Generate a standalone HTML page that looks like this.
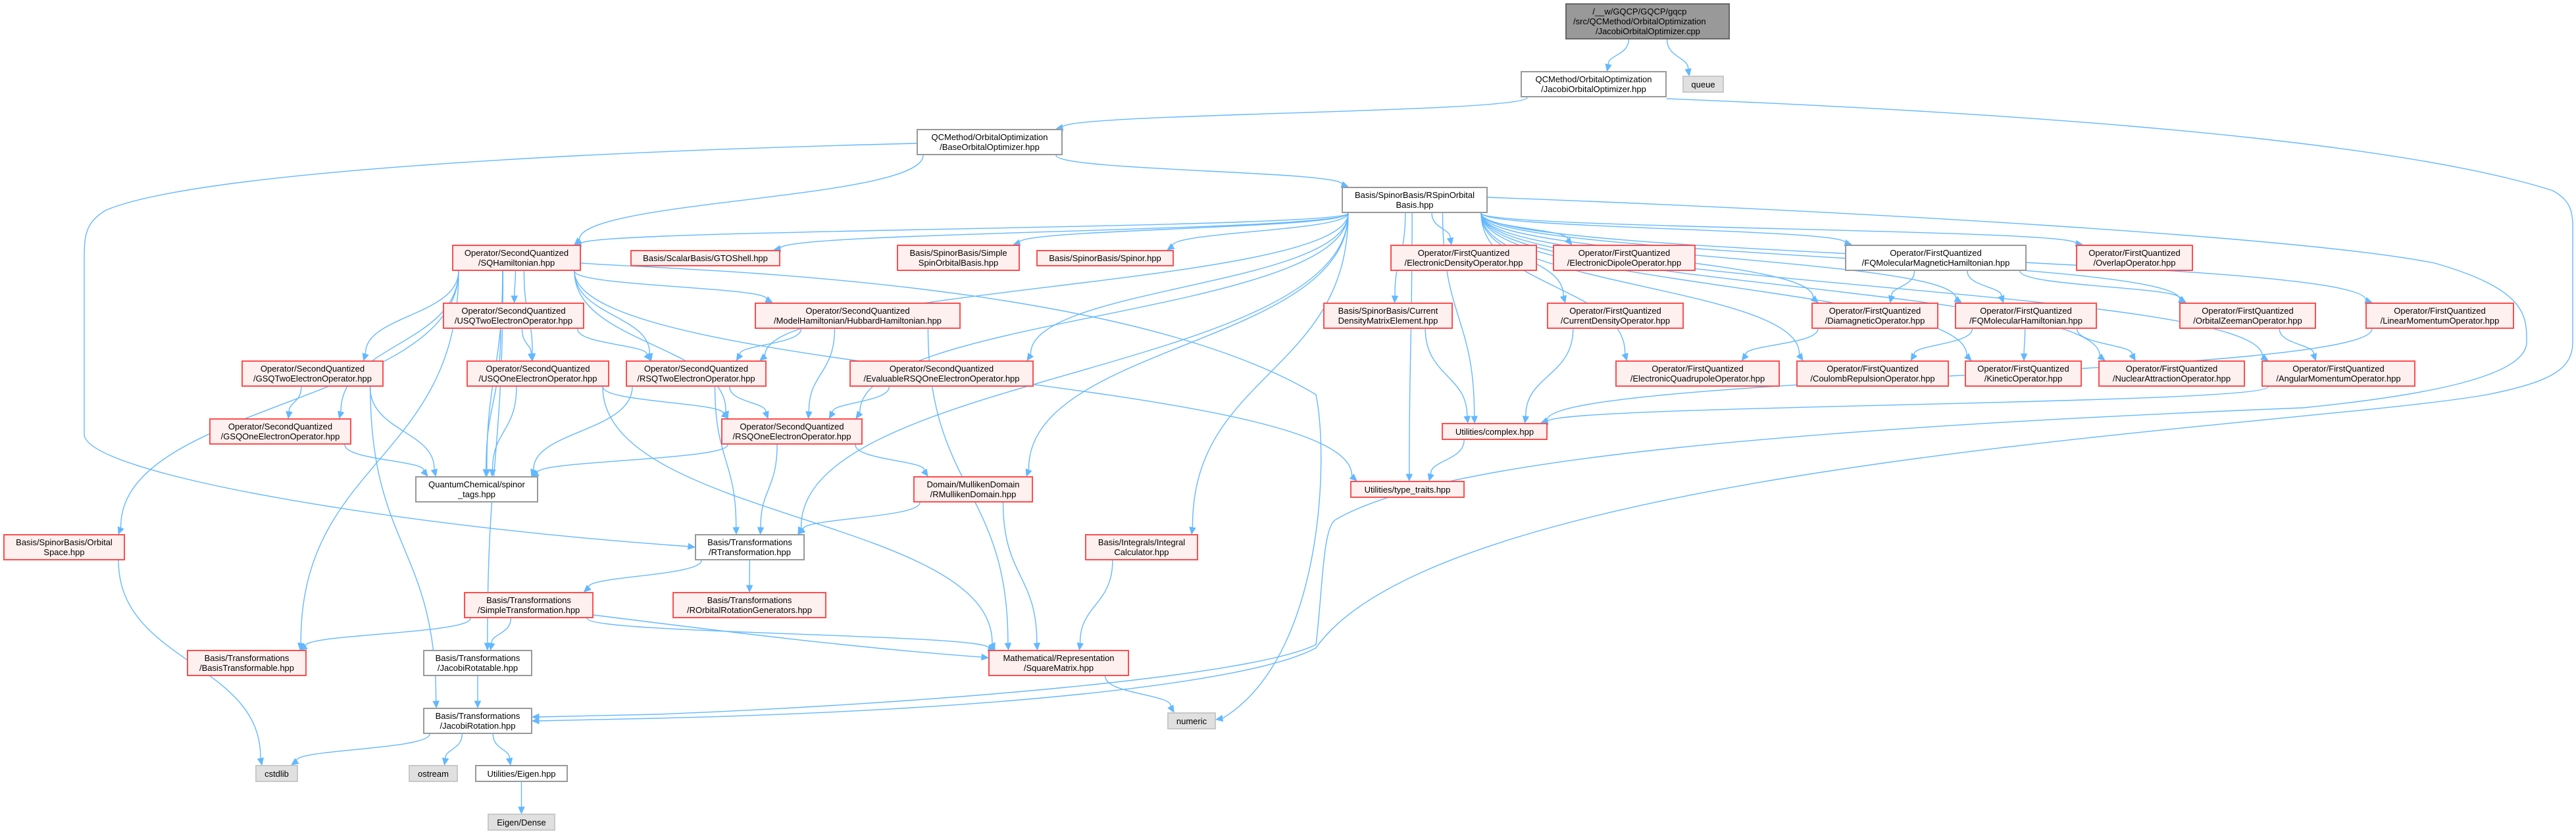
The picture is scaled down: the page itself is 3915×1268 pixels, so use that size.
<!DOCTYPE html>
<html><head><meta charset="utf-8">
<style>
body{margin:0;width:3915px;height:1268px;background:#fff;position:relative;overflow:hidden;font-family:"Liberation Sans",sans-serif;}
svg{position:absolute;left:0;top:0;}
.n{position:absolute;box-sizing:border-box;display:flex;flex-direction:column;justify-content:center;align-items:center;font-size:13px;line-height:15px;color:#000;white-space:nowrap;text-align:center;}
.w{background:#fff;border:2px solid #999;}
.r{background:#fff0f0;border:2px solid #ff4d4d;}
.s{background:#e0e0e0;border:2px solid #c8c8c8;}
.t{background:#999;border:2px solid #666;}
</style></head><body>
<svg id="g" width="3915" height="1268" viewBox="0 0 3915 1268"></svg>

<div class="n t" style="left:2379px;top:5px;width:250px;height:55px;align-items:flex-start;padding-left:10px">/__w/GQCP/GQCP/gqcp<br>/src/QCMethod/OrbitalOptimization<br>&nbsp;&nbsp;&nbsp;&nbsp;&nbsp;&nbsp;&nbsp;/JacobiOrbitalOptimizer.cpp</div>
<div class="n w" style="left:2311px;top:108px;width:222px;height:40px">QCMethod/OrbitalOptimization<br>/JacobiOrbitalOptimizer.hpp</div>
<div class="n s" style="left:2557px;top:115px;width:63px;height:26px">queue</div>
<div class="n w" style="left:1393px;top:196px;width:222px;height:40px">QCMethod/OrbitalOptimization<br>/BaseOrbitalOptimizer.hpp</div>
<div class="n w" style="left:2039px;top:284px;width:222px;height:40px">Basis/SpinorBasis/RSpinOrbital<br>Basis.hpp</div>
<div class="n r" style="left:687px;top:372px;width:196px;height:40px">Operator/SecondQuantized<br>/SQHamiltonian.hpp</div>
<div class="n r" style="left:958px;top:380px;width:228px;height:25px">Basis/ScalarBasis/GTOShell.hpp</div>
<div class="n r" style="left:1363px;top:372px;width:187px;height:40px">Basis/SpinorBasis/Simple<br>SpinOrbitalBasis.hpp</div>
<div class="n r" style="left:1575px;top:380px;width:209px;height:25px">Basis/SpinorBasis/Spinor.hpp</div>
<div class="n r" style="left:2113px;top:372px;width:223px;height:40px">Operator/FirstQuantized<br>/ElectronicDensityOperator.hpp</div>
<div class="n r" style="left:2360px;top:372px;width:217px;height:40px">Operator/FirstQuantized<br>/ElectronicDipoleOperator.hpp</div>
<div class="n w" style="left:2804px;top:372px;width:276px;height:40px">Operator/FirstQuantized<br>/FQMolecularMagneticHamiltonian.hpp</div>
<div class="n r" style="left:3155px;top:372px;width:178px;height:40px">Operator/FirstQuantized<br>/OverlapOperator.hpp</div>
<div class="n r" style="left:673px;top:460px;width:215px;height:40px">Operator/SecondQuantized<br>/USQTwoElectronOperator.hpp</div>
<div class="n r" style="left:1147px;top:460px;width:313px;height:40px">Operator/SecondQuantized<br>/ModelHamiltonian/HubbardHamiltonian.hpp</div>
<div class="n r" style="left:2011px;top:460px;width:197px;height:40px">Basis/SpinorBasis/Current<br>DensityMatrixElement.hpp</div>
<div class="n r" style="left:2351px;top:460px;width:208px;height:40px">Operator/FirstQuantized<br>/CurrentDensityOperator.hpp</div>
<div class="n r" style="left:2753px;top:460px;width:193px;height:40px">Operator/FirstQuantized<br>/DiamagneticOperator.hpp</div>
<div class="n r" style="left:2971px;top:460px;width:216px;height:40px">Operator/FirstQuantized<br>/FQMolecularHamiltonian.hpp</div>
<div class="n r" style="left:3312px;top:460px;width:208px;height:40px">Operator/FirstQuantized<br>/OrbitalZeemanOperator.hpp</div>
<div class="n r" style="left:3595px;top:460px;width:226px;height:40px">Operator/FirstQuantized<br>/LinearMomentumOperator.hpp</div>
<div class="n r" style="left:367px;top:548px;width:216px;height:40px">Operator/SecondQuantized<br>/GSQTwoElectronOperator.hpp</div>
<div class="n r" style="left:709px;top:548px;width:217px;height:40px">Operator/SecondQuantized<br>/USQOneElectronOperator.hpp</div>
<div class="n r" style="left:951px;top:548px;width:214px;height:40px">Operator/SecondQuantized<br>/RSQTwoElectronOperator.hpp</div>
<div class="n r" style="left:1291px;top:548px;width:280px;height:40px">Operator/SecondQuantized<br>/EvaluableRSQOneElectronOperator.hpp</div>
<div class="n r" style="left:2455px;top:548px;width:250px;height:40px">Operator/FirstQuantized<br>/ElectronicQuadrupoleOperator.hpp</div>
<div class="n r" style="left:2730px;top:548px;width:232px;height:40px">Operator/FirstQuantized<br>/CoulombRepulsionOperator.hpp</div>
<div class="n r" style="left:2986px;top:548px;width:178px;height:40px">Operator/FirstQuantized<br>/KineticOperator.hpp</div>
<div class="n r" style="left:3189px;top:548px;width:223px;height:40px">Operator/FirstQuantized<br>/NuclearAttractionOperator.hpp</div>
<div class="n r" style="left:3437px;top:548px;width:234px;height:40px">Operator/FirstQuantized<br>/AngularMomentumOperator.hpp</div>
<div class="n r" style="left:318px;top:636px;width:216px;height:40px">Operator/SecondQuantized<br>/GSQOneElectronOperator.hpp</div>
<div class="n r" style="left:1096px;top:636px;width:215px;height:40px">Operator/SecondQuantized<br>/RSQOneElectronOperator.hpp</div>
<div class="n r" style="left:2191px;top:643px;width:161px;height:26px">Utilities/complex.hpp</div>
<div class="n w" style="left:631px;top:724px;width:187px;height:40px">QuantumChemical/spinor<br>_tags.hpp</div>
<div class="n r" style="left:1388px;top:724px;width:182px;height:40px">Domain/MullikenDomain<br>/RMullikenDomain.hpp</div>
<div class="n r" style="left:2052px;top:731px;width:174px;height:26px">Utilities/type_traits.hpp</div>
<div class="n r" style="left:5px;top:812px;width:185px;height:40px">Basis/SpinorBasis/Orbital<br>Space.hpp</div>
<div class="n w" style="left:1056px;top:812px;width:167px;height:40px">Basis/Transformations<br>/RTransformation.hpp</div>
<div class="n r" style="left:1649px;top:812px;width:172px;height:40px">Basis/Integrals/Integral<br>Calculator.hpp</div>
<div class="n r" style="left:705px;top:900px;width:197px;height:40px">Basis/Transformations<br>/SimpleTransformation.hpp</div>
<div class="n r" style="left:1022px;top:900px;width:234px;height:40px">Basis/Transformations<br>/ROrbitalRotationGenerators.hpp</div>
<div class="n r" style="left:284px;top:988px;width:182px;height:40px">Basis/Transformations<br>/BasisTransformable.hpp</div>
<div class="n w" style="left:643px;top:988px;width:166px;height:40px">Basis/Transformations<br>/JacobiRotatable.hpp</div>
<div class="n r" style="left:1502px;top:988px;width:214px;height:40px">Mathematical/Representation<br>/SquareMatrix.hpp</div>
<div class="n w" style="left:643px;top:1076px;width:166px;height:40px">Basis/Transformations<br>/JacobiRotation.hpp</div>
<div class="n s" style="left:1774px;top:1083px;width:74px;height:26px">numeric</div>
<div class="n s" style="left:388px;top:1163px;width:65px;height:26px">cstdlib</div>
<div class="n s" style="left:621px;top:1163px;width:75px;height:26px">ostream</div>
<div class="n w" style="left:722px;top:1163px;width:141px;height:26px">Utilities/Eigen.hpp</div>
<div class="n s" style="left:741px;top:1237px;width:103px;height:26px">Eigen/Dense</div>

<script>
var N={
A:[2379,5,2629,60],B:[2311,108,2533,148],C:[2557,115,2620,141],D:[1393,196,1615,236],E:[2039,284,2261,324],
F:[687,372,883,412],G:[958,380,1186,405],H:[1363,372,1550,412],I:[1575,380,1784,405],J:[2113,372,2336,412],
K:[2360,372,2577,412],L:[2804,372,3080,412],M:[3155,372,3333,412],N:[673,460,888,500],O:[1147,460,1460,500],
P:[2011,460,2208,500],Q:[2351,460,2559,500],R:[2753,460,2946,500],S:[2971,460,3187,500],T:[3312,460,3520,500],
U:[3595,460,3821,500],V:[367,548,583,588],W:[709,548,926,588],X:[951,548,1165,588],Y:[1291,548,1571,588],
Z:[2455,548,2705,588],AA:[2730,548,2962,588],AB:[2986,548,3164,588],AC:[3189,548,3412,588],AD:[3437,548,3671,588],
AE:[318,636,534,676],AF:[1096,636,1311,676],AG:[2191,643,2352,669],AH:[631,724,818,764],AI:[1388,724,1570,764],
AJ:[2052,731,2226,757],AK:[5,812,190,852],AL:[1056,812,1223,852],AM:[1649,812,1821,852],AN:[705,900,902,940],
AO:[1022,900,1256,940],AP:[284,988,466,1028],AQ:[643,988,809,1028],AR:[1502,988,1716,1028],AS:[643,1076,809,1116],
AT:[1774,1083,1848,1109],AU:[388,1163,453,1189],AV:[621,1163,696,1189],AW:[722,1163,863,1189],AX:[741,1237,844,1263]};
var E=[
"A B","A C","B D","D E","D F",
"E F","E G","E H","E I","E J","E K","E L","E M","E P","E Q","E R","E S","E T","E U","E Z","E AA","E AB","E AC","E AD",
"E AG","E AJ","E AF","E X","E AI","E AL","E AM","E Y",
"F N","F V","F W","F X","F AE","F AF","F AH","F AK","F AP","F AQ","F O","F AJ",
"N W","N X","N AH","O X","O AF","O AR","V AE","V AH","V AS","W AF","W AH","W AR","X AF","X AH","X AL","Y AF",
"AE AH","AF AH","AF AI","AF AL","AI AL","AI AR","AL AN","AL AO","AN AP","AN AQ","AN AR","AQ AS",
"AS AU","AS AV","AS AW","AW AX","AK AU","AM AR","AR AT",
"L R","L S","L T","P AG","Q AG","R Z","S AA","S AB","S AC","T AD","U AG","AD AG","AG AJ"];
var g=document.getElementById('g'),col='#63b8ff',out='';
function cl(v,a,b){return Math.max(a,Math.min(b,v));}
function arrow(tx,ty,cx,cy){var dx=tx-cx,dy=ty-cy,l=Math.hypot(dx,dy)||1;dx/=l;dy/=l;var bx=tx-dx*10,by=ty-dy*10;
out+='<polygon points="'+tx+','+ty+' '+(bx-dy*4.5)+','+(by+dx*4.5)+' '+(bx+dy*4.5)+','+(by-dx*4.5)+'" fill="'+col+'" stroke="'+col+'"/>';return [bx,by];}
function path(d){out+='<path d="'+d+'" fill="none" stroke="'+col+'" stroke-width="1.4"/>';}
E.forEach(function(e){var p=e.split(' '),s=N[p[0]],t=N[p[1]];
var scx=(s[0]+s[2])/2,tcx=(t[0]+t[2])/2;
var sx=cl(scx+(tcx-scx)*0.35,s[0]+10,s[2]-10),sy=s[3];
var tx=cl(tcx+(scx-tcx)*0.25,t[0]+10,t[2]-10),ty=t[1];
if(t[1]<=s[3]){ // same row: go from side
 if(tcx>scx){sx=s[2];tx=cl(tcx-20,t[0]+10,t[2]-10);}else{sx=s[0];tx=cl(tcx+20,t[0]+10,t[2]-10);}sy=(s[1]+s[3])/2;
}
var dy=ty-sy,c1y=sy+dy*0.5,c2y=ty-dy*0.5;
var b=arrow(tx,ty,tx+(sx-tx)*0.15,c2y);
path('M'+sx+','+sy+' C'+sx+','+c1y+' '+tx+','+c2y+' '+b[0]+','+b[1]);});
// special long routes
var b;
b=arrow(809,1096,860,1096);
path('M2533,150 C2900,165 3600,200 3880,290 C3915,310 3910,330 3910,380 L3910,520 C3910,560 3880,580 3780,600 C3500,650 2200,700 2000,985 C1900,1040 1500,1080 1000,1092 L'+b[0]+','+b[1]);
b=arrow(809,1090,860,1090);
path('M2261,300 C2800,320 3500,360 3700,400 C3840,440 3840,480 3840,520 C3840,570 3700,600 3500,620 C2500,660 2150,720 2030,790 C2010,800 2010,900 2000,980 C1900,1030 1400,1070 1000,1086 L'+b[0]+','+b[1]);
b=arrow(1056,832,1040,830);
path('M1393,218 C900,230 300,260 160,320 C128,340 128,360 128,400 L128,660 C128,720 600,800 '+b[0]+','+b[1]);
b=arrow(1502,1000,1480,998);
path('M902,935 C1100,960 1300,985 '+b[0]+','+b[1]);
b=arrow(1848,1094,1870,1090);
path('M883,400 C1000,410 1700,420 2000,600 C2020,700 2010,1000 '+b[0]+','+b[1]);
g.innerHTML=out;
</script>
</body></html>
